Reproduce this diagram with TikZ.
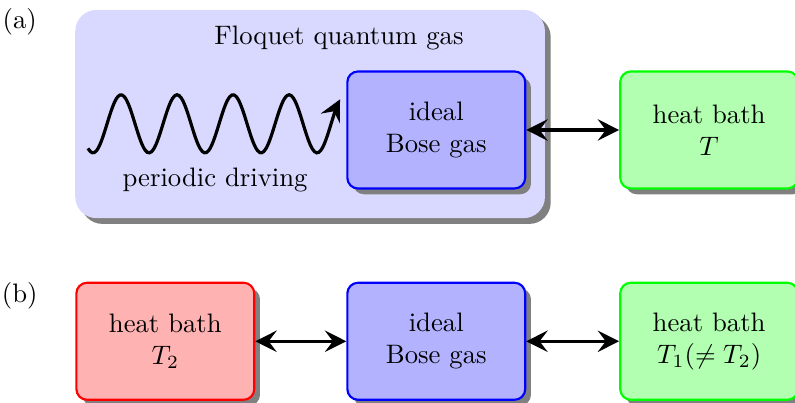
\documentclass[tikz,border=0pt]{standalone}
\usetikzlibrary{arrows.meta, positioning, shadows}

\begin{document}
\begin{tikzpicture}[
        node distance = 3.59cm, on grid,
        >= {Stealth[length = 8pt, width = 8pt, inset = 3pt]},
        box/.style = {thick, rounded corners, align = center,
            minimum width = 2.34cm, minimum height = 1.54cm,
            drop shadow = {fill = gray, opacity = 1}},
        gas/.style = {box, draw = blue, fill = blue!30},
        hot/.style = {box, draw = red, fill = red!30},
        cold/.style = {box, draw = green, fill = green!30}
    ]
        \useasboundingbox (0,0) rectangle (10.46,5.30);
        \node[fill = blue!15, rounded corners = 8pt, minimum width = 6.18cm, minimum height = 2.74cm,
            drop shadow = {fill = gray, opacity = 1}] (floquet) at (4.08,3.80) {};
        \node (title) at (4.46,4.80) {Floquet quantum gas};
        \node (drive) at (2.83,2.93) {periodic driving};
        \node (labelA) at (0.26,5.01) {(a)};
        \node (labelB) at (0.26,1.41) {(b)};

        \node[gas] (gasTop) at (5.74,3.59) {ideal\\Bose gas};
        \node[cold] (bathTop) [right = of gasTop] {heat bath\\$T$};
        \node[gas] (gasBottom) [below = 2.78cm of gasTop] {ideal\\Bose gas};
        \node[hot] (bathLeft) [left = 3.565cm of gasBottom] {heat bath\\$T_2$};
        \node[cold] (bathRight) [right = of gasBottom] {heat bath\\$T_1(\neq T_2)$};

        % driving wave
        \draw[->, very thick] plot[domain = 1.158:4.474, samples = 120, smooth]
            (\x, {3.671 - 0.382*cos(deg(2*pi*(\x-1.224)/0.737))});

      \path[<->, very thick]
        (gasTop) edge (bathTop)
        (bathLeft) edge (gasBottom)
        (gasBottom) edge (bathRight);
    \end{tikzpicture}
\end{document}
